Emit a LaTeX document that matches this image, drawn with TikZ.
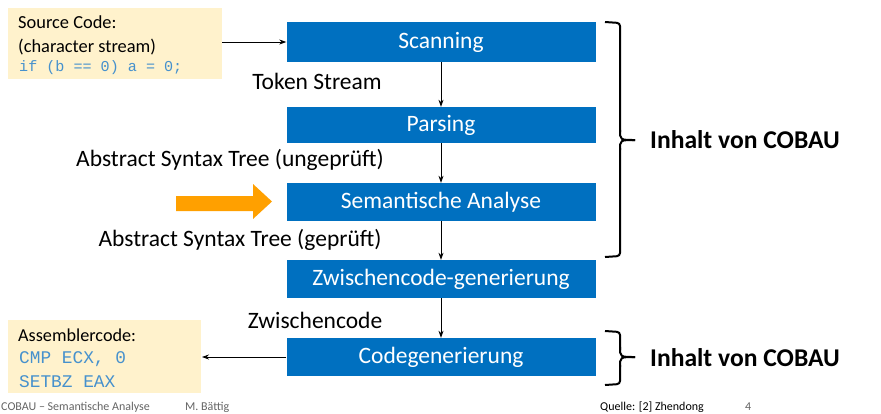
\documentclass[tikz,border=0pt]{standalone}
\usepackage{fontspec}
\setmainfont{Carlito}
\setmonofont{Liberation Mono}
\usetikzlibrary{arrows.meta}
\definecolor{boxblue}{RGB}{0,112,192}
\definecolor{noteyel}{RGB}{255,242,204}
\definecolor{codeblue}{RGB}{70,145,205}
\definecolor{orng}{RGB}{255,160,0}
\definecolor{foot}{RGB}{100,100,100}
\begin{document}
\begin{tikzpicture}[x=1pt,y=-1pt,
  stage/.style={fill=boxblue,text=white,minimum width=309pt,inner sep=0pt,font=\fontsize{23.5}{25}\selectfont},
  note/.style={fill=noteyel,inner sep=0pt,anchor=north west},
  lbl/.style={font=\fontsize{23.5}{25}\selectfont,inner sep=0pt},
  conn/.style={-{Stealth[length=7pt,width=5pt]},line width=0.8pt},
  brace/.style={line width=2pt},
  big/.style={font=\bfseries\fontsize{25.6}{27}\selectfont,anchor=west,inner sep=0pt},
  ftr/.style={font=\fontsize{12}{13}\selectfont,inner sep=0pt,anchor=west}]
\useasboundingbox (0,0) rectangle (881,413);
% stages
\node[stage,minimum height=40pt] (scan) at (441,42) {Scanning};
\node[stage,minimum height=36pt] (pars) at (441,125) {Parsing};
\node[stage,minimum height=38pt] (sem) at (441,202) {Semantische Analyse};
\node[stage,minimum height=38pt] (zw) at (441,279) {Zwischencode-generierung};
\node[stage,minimum height=38pt] (cg) at (441,357) {Codegenerierung};
\draw[conn] (scan) -- (pars);
\draw[conn] (pars) -- (sem);
\draw[conn] (sem) -- (zw);
\draw[conn] (zw) -- (cg);
% source box
\node[note,minimum width=214pt,minimum height=71pt] (src) at (8,8) {};
\node[anchor=west,inner sep=0pt,font=\fontsize{18.4}{20}\selectfont] (srct1) at (18,22) {Source Code:};
\node[anchor=west,inner sep=0pt,font=\fontsize{18.4}{20}\selectfont] (srct2) at (18,47) {(character stream)};
\node[anchor=west,inner sep=0pt,font=\ttfamily\fontsize{15.1}{17}\selectfont,text=codeblue] (srct3) at (19,68) {if (b == 0) a = 0;};
\draw[conn] (src.east |- scan.west) -- (scan.west);
% assembler box
\node[note,minimum width=193pt,minimum height=73pt] (asm) at (8,320) {};
\node[anchor=west,inner sep=0pt,font=\fontsize{18.2}{20}\selectfont] (asmt1) at (18,335) {Assemblercode:};
\node[anchor=west,inner sep=0pt,font=\ttfamily\fontsize{17.8}{19}\selectfont,text=codeblue] (asmt2) at (19,359) {CMP ECX, 0};
\node[anchor=west,inner sep=0pt,font=\ttfamily\fontsize{17.8}{19}\selectfont,text=codeblue] (asmt3) at (19,382) {SETBZ EAX};
\coordinate (asmend) at (202,357);
\draw[conn] (cg.west) -- (asmend);
% labels
\node[lbl] (l1) at (317,81) {Token Stream};
\node[lbl] (l2) at (230,160) {Abstract Syntax Tree (ungeprüft)};
\node[lbl] (l3) at (240,240) {Abstract Syntax Tree (geprüft)};
\node[lbl] (l4) at (315,320) {Zwischencode};
% orange arrow
\fill[orng] (176,196) -- (253,196) -- (253,184) -- (272,201.5) -- (253,219) -- (253,211) -- (176,211) -- cycle;
% braces
\draw[brace,rounded corners=3pt] (605,22) -- (620,23) -- (620,132);
\draw[brace] (620,130) .. controls (620,140) .. (635,140);
\draw[brace] (620,150) .. controls (620,140) .. (635,140);
\draw[brace,rounded corners=3pt] (620,148) -- (620,256) -- (605,257);
\node[big] (c1) at (650,140) {Inhalt von COBAU};
\draw[brace,rounded corners=3pt] (605,331) -- (620,332) -- (620,350);
\draw[brace] (620,347) .. controls (620,357) .. (635,357);
\draw[brace] (620,367) .. controls (620,357) .. (635,357);
\draw[brace,rounded corners=3pt] (620,365) -- (620,384) -- (605,385);
\node[big] (c2) at (650,358) {Inhalt von COBAU};
% footer
\node[ftr,text=foot] (f1) at (1,407) {COBAU – Semantische Analyse};
\node[ftr,text=foot] (f2) at (185,407) {M. Bättig};
\node[ftr] (f3) at (600,407) {Quelle: [2] Zhendong};
\node[ftr,text=foot] (f4) at (745,407) {4};
\end{tikzpicture}
\end{document}
